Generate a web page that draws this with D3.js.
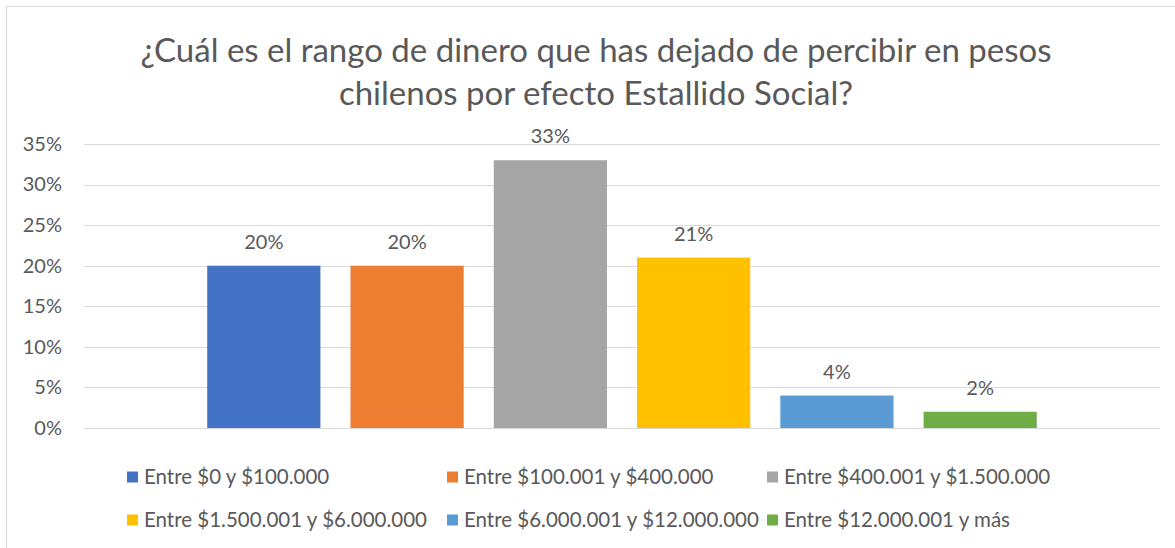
<!DOCTYPE html>
<html>
<head>
<meta charset="utf-8">
<script src="https://cdn.jsdelivr.net/npm/d3@7"></script>
<style>
  body { margin: 0; background: #fff; }
  text { font-family: Lato, "Open Sans", sans-serif; fill: #595959; }
</style>
</head>
<body>
<svg width="1175" height="548"></svg>
<script>
// series (one bar each), values in percent
var series = ["Entre $0 y $100.000", "Entre $100.001 y $400.000", "Entre $400.001 y $1.500.000",
              "Entre $1.500.001 y $6.000.000", "Entre $6.000.001 y $12.000.000", "Entre $12.000.001 y más"];
var values = [20, 20, 33, 21, 4, 2];
var colors = ["#4472C4", "#ED7D31", "#A5A5A5", "#FFC000", "#5B9BD5", "#70AD47"];
var yTicks = [0, 5, 10, 15, 20, 25, 30, 35];
var titleLines = ["¿Cuál es el rango de dinero que has dejado de percibir en pesos",
                  "chilenos por efecto Estallido Social?"];

var svg = d3.select("svg"),
    width = +svg.attr("width"),
    height = +svg.attr("height");

// chart area frame (only top and left visible)
svg.append("rect")
    .attr("x", 6.5).attr("y", 6.5)
    .attr("width", width + 10).attr("height", height + 10)
    .attr("fill", "none").attr("stroke", "#d9d9d9");

svg.append("g").selectAll("text")
  .data(titleLines)
  .enter().append("text")
    .attr("x", 596)
    .attr("y", function(d, i) { return 62 + i * 43; })
    .attr("text-anchor", "middle")
    .style("font-size", "33px")
    .text(function(d) { return d; });

var x = d3.scaleBand()
    .domain(series)
    .range([84, 1160])
    .paddingInner(0.21)
    .paddingOuter(0.86);

var y = d3.scaleLinear()
    .domain([0, 35])
    .range([428, 144]);

var grid = svg.append("g");
grid.selectAll("line")
  .data(yTicks)
  .enter().append("line")
    .attr("x1", 84).attr("x2", 1160)
    .attr("y1", function(d) { return Math.round(y(d)) + 0.5; })
    .attr("y2", function(d) { return Math.round(y(d)) + 0.5; })
    .attr("stroke", "#d9d9d9");

var yAxis = svg.append("g")
    .attr("transform", "translate(70,0)")
    .call(d3.axisLeft(y).tickValues(yTicks).tickSize(0).tickPadding(8)
      .tickFormat(function(d) { return d + "%"; }));
yAxis.select(".domain").remove();
yAxis.selectAll("text").style("font-size", "20px").attr("fill", "#595959");

var bars = svg.append("g").selectAll("g")
  .data(values)
  .enter().append("g");

bars.append("rect")
    .attr("x", function(d, i) { return x(series[i]); })
    .attr("y", function(d) { return y(d); })
    .attr("width", x.bandwidth())
    .attr("height", function(d) { return y(0) - y(d); })
    .attr("fill", function(d, i) { return colors[i]; });

bars.append("text")
    .attr("x", function(d, i) { return x(series[i]) + x.bandwidth() / 2; })
    .attr("y", function(d) { return y(d) - 17; })
    .attr("text-anchor", "middle")
    .style("font-size", "20px")
    .text(function(d) { return d + "%"; });

// legend, two rows of three
var legendX = [127, 447, 767],
    legendY = [477, 520];

var legend = svg.append("g").selectAll("g")
  .data(series)
  .enter().append("g")
    .attr("transform", function(d, i) {
      return "translate(" + legendX[i % 3] + "," + legendY[Math.floor(i / 3)] + ")";
    });

legend.append("rect")
    .attr("x", 0).attr("y", -5.5)
    .attr("width", 11).attr("height", 11)
    .attr("fill", function(d, i) { return colors[i]; });

legend.append("text")
    .attr("x", 17)
    .attr("dy", "0.35em")
    .style("font-size", "20.5px")
    .text(function(d) { return d; });
</script>
</body>
</html>
